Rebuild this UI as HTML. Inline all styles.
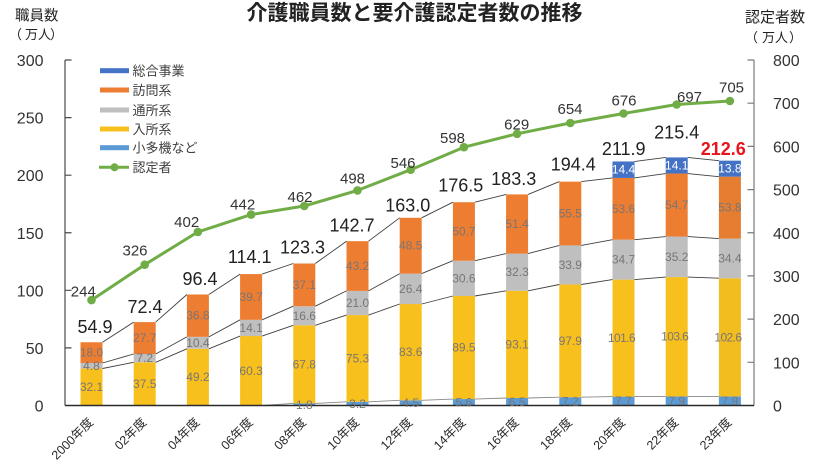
<!DOCTYPE html>
<html><head><meta charset="utf-8"><style>
html,body{margin:0;padding:0;background:#fff;}
svg{display:block;font-family:"Liberation Sans","Noto Sans CJK JP",sans-serif;}
.ax{font-size:16px;fill:#333;}
.vl{font-size:12px;fill:#7a7575;text-anchor:middle;}
.wl{font-size:12px;fill:#fff;text-anchor:middle;}
.tl{font-size:18px;fill:#222;text-anchor:middle;}
.gl{font-size:15px;fill:#333;text-anchor:middle;}
.lg{font-size:13px;fill:#404040;}
.xl{font-size:12.5px;fill:#2a2a2a;text-anchor:end;}
</style></head><body>
<svg width="816" height="467" viewBox="0 0 816 467" xmlns="http://www.w3.org/2000/svg">
<rect width="816" height="467" fill="#fff"/>
<text x="414.5" y="20" font-size="21" font-weight="bold" fill="#222" text-anchor="middle">介護職員数と要介護認定者数の推移</text>
<text x="15" y="20.5" font-size="14.5" fill="#222">職員数</text>
<text x="9" y="39" font-size="13" fill="#222">（</text><text x="25" y="39" font-size="13" fill="#222">万人</text><text x="50" y="39" font-size="13" fill="#222">）</text>
<text x="745" y="22" font-size="15" fill="#222">認定者数</text>
<text x="745" y="42" font-size="13" fill="#222">（</text><text x="762" y="42" font-size="13" fill="#222">万人</text><text x="789" y="42" font-size="13" fill="#222">）</text>

<g class="ax" text-anchor="end">
<text x="43.5" y="66">300</text><text x="43.5" y="123.6">250</text><text x="43.5" y="181.2">200</text><text x="43.5" y="238.8">150</text><text x="43.5" y="296.3">100</text><text x="43.5" y="353.9">50</text><text x="43.5" y="411.5">0</text>
</g>
<g class="ax">
<text x="773" y="66">800</text><text x="773" y="109.2">700</text><text x="773" y="152.4">600</text><text x="773" y="195.6">500</text><text x="773" y="238.8">400</text><text x="773" y="281.9">300</text><text x="773" y="325.1">200</text><text x="773" y="368.3">100</text><text x="773" y="411.5">0</text>
</g>

<g>
<rect x="80.5" y="368.53" width="22" height="36.97" fill="#F8C01C"/>
<rect x="80.5" y="363.0" width="22" height="5.53" fill="#BFBFBF"/>
<rect x="80.5" y="342.27" width="22" height="20.73" fill="#ED7D31"/>
<rect x="133.7" y="362.31" width="22" height="43.19" fill="#F8C01C"/>
<rect x="133.7" y="354.02" width="22" height="8.29" fill="#BFBFBF"/>
<rect x="133.7" y="322.12" width="22" height="31.9" fill="#ED7D31"/>
<rect x="186.9" y="348.84" width="22" height="56.66" fill="#F8C01C"/>
<rect x="186.9" y="336.86" width="22" height="11.98" fill="#BFBFBF"/>
<rect x="186.9" y="294.48" width="22" height="42.38" fill="#ED7D31"/>
<rect x="240.1" y="336.05" width="22" height="69.45" fill="#F8C01C"/>
<rect x="240.1" y="319.82" width="22" height="16.23" fill="#BFBFBF"/>
<rect x="240.1" y="274.09" width="22" height="45.73" fill="#ED7D31"/>
<rect x="293.3" y="403.43" width="22" height="2.07" fill="#5B9BD5"/>
<rect x="293.3" y="325.34" width="22" height="78.09" fill="#F8C01C"/>
<rect x="293.3" y="306.23" width="22" height="19.11" fill="#BFBFBF"/>
<rect x="293.3" y="263.5" width="22" height="42.73" fill="#ED7D31"/>
<rect x="346.5" y="401.81" width="22" height="3.69" fill="#5B9BD5"/>
<rect x="346.5" y="315.09" width="22" height="86.72" fill="#F8C01C"/>
<rect x="346.5" y="290.91" width="22" height="24.18" fill="#BFBFBF"/>
<rect x="346.5" y="241.16" width="22" height="49.75" fill="#ED7D31"/>
<rect x="399.7" y="400.32" width="22" height="5.18" fill="#5B9BD5"/>
<rect x="399.7" y="304.04" width="22" height="96.28" fill="#F8C01C"/>
<rect x="399.7" y="273.63" width="22" height="30.41" fill="#BFBFBF"/>
<rect x="399.7" y="217.78" width="22" height="55.85" fill="#ED7D31"/>
<rect x="452.9" y="399.05" width="22" height="6.45" fill="#5B9BD5"/>
<rect x="452.9" y="295.98" width="22" height="103.07" fill="#F8C01C"/>
<rect x="452.9" y="260.73" width="22" height="35.25" fill="#BFBFBF"/>
<rect x="452.9" y="202.23" width="22" height="58.5" fill="#ED7D31"/>
<rect x="506.1" y="398.01" width="22" height="7.49" fill="#5B9BD5"/>
<rect x="506.1" y="290.79" width="22" height="107.22" fill="#F8C01C"/>
<rect x="506.1" y="253.6" width="22" height="37.19" fill="#BFBFBF"/>
<rect x="506.1" y="194.4" width="22" height="59.2" fill="#ED7D31"/>
<rect x="559.3" y="397.21" width="22" height="8.29" fill="#5B9BD5"/>
<rect x="559.3" y="284.46" width="22" height="112.75" fill="#F8C01C"/>
<rect x="559.3" y="245.42" width="22" height="39.04" fill="#BFBFBF"/>
<rect x="559.3" y="181.62" width="22" height="63.8" fill="#ED7D31"/>
<rect x="612.5" y="396.63" width="22" height="8.87" fill="#5B9BD5"/>
<rect x="612.5" y="279.62" width="22" height="117.01" fill="#F8C01C"/>
<rect x="612.5" y="239.66" width="22" height="39.96" fill="#BFBFBF"/>
<rect x="612.5" y="177.93" width="22" height="61.73" fill="#ED7D31"/>
<rect x="612.5" y="161.46" width="22" height="16.47" fill="#4472C4"/>
<rect x="665.7" y="396.4" width="22" height="9.1" fill="#5B9BD5"/>
<rect x="665.7" y="277.09" width="22" height="119.31" fill="#F8C01C"/>
<rect x="665.7" y="236.55" width="22" height="40.54" fill="#BFBFBF"/>
<rect x="665.7" y="173.55" width="22" height="63.0" fill="#ED7D31"/>
<rect x="665.7" y="157.43" width="22" height="16.12" fill="#4472C4"/>
<rect x="718.9" y="396.4" width="22" height="9.1" fill="#5B9BD5"/>
<rect x="718.9" y="278.24" width="22" height="118.16" fill="#F2BD1E"/>
<rect x="718.9" y="238.62" width="22" height="39.62" fill="#BFBFBF"/>
<rect x="718.9" y="176.66" width="22" height="61.96" fill="#E57E31"/>
<rect x="718.9" y="160.66" width="22" height="16.0" fill="#4472C4"/>
</g>

<g fill="none" stroke="#404040" stroke-width="0.9">
<path d="M262.1 405.5 L293.3 403.4 M315.3 403.4 L346.5 401.8 M368.5 401.8 L399.7 400.3 M421.7 400.3 L452.9 399.1 M474.9 399.1 L506.1 398.0 M528.1 398.0 L559.3 397.2 M581.3 397.2 L612.5 396.6 M634.5 396.6 L665.7 396.4 M687.7 396.4 L718.9 396.4" stroke="#888"/>
<path d="M102.5 368.5 L133.7 362.3 M155.7 362.3 L186.9 348.8 M208.9 348.8 L240.1 336.1 M262.1 336.1 L293.3 325.3 M315.3 325.3 L346.5 315.1 M368.5 315.1 L399.7 304.0 M421.7 304.0 L452.9 296.0 M474.9 296.0 L506.1 290.8 M528.1 290.8 L559.3 284.5 M581.3 284.5 L612.5 279.6 M634.5 279.6 L665.7 277.1 M687.7 277.1 L718.9 278.2"/>
<path d="M102.5 363.0 L133.7 354.0 M155.7 354.0 L186.9 336.9 M208.9 336.9 L240.1 319.8 M262.1 319.8 L293.3 306.2 M315.3 306.2 L346.5 290.9 M368.5 290.9 L399.7 273.6 M421.7 273.6 L452.9 260.7 M474.9 260.7 L506.1 253.6 M528.1 253.6 L559.3 245.4 M581.3 245.4 L612.5 239.7 M634.5 239.7 L665.7 236.6 M687.7 236.6 L718.9 238.6"/>
<path d="M102.5 342.3 L133.7 322.1 M155.7 322.1 L186.9 294.5 M208.9 294.5 L240.1 274.1 M262.1 274.1 L293.3 263.5 M315.3 263.5 L346.5 241.2 M368.5 241.2 L399.7 217.8 M421.7 217.8 L452.9 202.2 M474.9 202.2 L506.1 194.4 M528.1 194.4 L559.3 181.6 M581.3 181.6 L612.5 177.9 M634.5 177.9 L665.7 173.6 M687.7 173.6 L718.9 176.7"/>
<path d="M634.5 161.5 L665.7 157.4 M687.7 157.4 L718.9 160.7"/>
</g>

<g stroke="#4a4a4a" stroke-width="1.2" fill="none">
<path d="M65 60 V405.5"/>
<path d="M65 60 H71.5 M65 117.6 H71.5 M65 175.2 H71.5 M65 232.75 H71.5 M65 290.3 H71.5 M65 347.9 H71.5"/>
</g>
<g stroke="#7a7a7a" stroke-width="1.2" fill="none">
<path d="M754 60 V405.5"/>
<path d="M754 60 H747.5 M754 103.2 H747.5 M754 146.4 H747.5 M754 189.6 H747.5 M754 232.75 H747.5 M754 275.9 H747.5 M754 319.1 H747.5 M754 362.3 H747.5"/>
</g>
<path d="M65 405.5 H754" stroke="#2a2a2a" stroke-width="1.5"/>

<g class="vl">
<text x="91.5" y="391">32.1</text><text x="91.5" y="369.8">4.8</text><text x="91.5" y="356.6">18.0</text>
<text x="144.7" y="387.9">37.5</text><text x="144.7" y="362.2">7.2</text><text x="144.7" y="342.1">27.7</text>
<text x="197.9" y="381.2">49.2</text><text x="197.9" y="346.9">10.4</text><text x="197.9" y="319.7">36.8</text>
<text x="251.1" y="374.8">60.3</text><text x="251.1" y="331.9">14.1</text><text x="251.1" y="301">39.7</text>
<text x="304.3" y="409">1.8</text><text x="304.3" y="368.4">67.8</text><text x="304.3" y="319.8">16.6</text><text x="304.3" y="288.9">37.1</text>
<text x="357.5" y="408">3.2</text><text x="357.5" y="362.5">75.3</text><text x="357.5" y="307">21.0</text><text x="357.5" y="270">43.2</text>
<text x="410.7" y="407">4.5</text><text x="410.7" y="356.2">83.6</text><text x="410.7" y="292.8">26.4</text><text x="410.7" y="249.7">48.5</text>
<text x="463.9" y="406.5">5.6</text><text x="463.9" y="351.5">89.5</text><text x="463.9" y="282.4">30.6</text><text x="463.9" y="235.5">50.7</text>
<text x="517.1" y="406">6.5</text><text x="517.1" y="348.4">93.1</text><text x="517.1" y="276.2">32.3</text><text x="517.1" y="228">51.4</text>
<text x="570.3" y="405.5">7.2</text><text x="570.3" y="344.8">97.9</text><text x="570.3" y="268.9">33.9</text><text x="570.3" y="217.5">55.5</text>
<text x="623.5" y="405">7.7</text><text x="621.5" y="342.1" letter-spacing="-0.6">101.6</text><text x="623.5" y="263.6">34.7</text><text x="623.5" y="212.8">53.6</text>
<text x="676.7" y="405">7.9</text><text x="674.7" y="340.7" letter-spacing="-0.6">103.6</text><text x="676.7" y="260.8">35.2</text><text x="676.7" y="209">54.7</text>
<text x="729.9" y="405">7.9</text><text x="727.9" y="341.3" letter-spacing="-0.6">102.6</text><text x="729.9" y="262.4">34.4</text><text x="729.9" y="211.6">53.8</text>
</g>
<g class="wl">
<text x="623.5" y="173.7">14.4</text><text x="676.7" y="169.5">14.1</text><text x="729.9" y="172.7">13.8</text>
</g>

<g class="tl">
<text x="95" y="333">54.9</text>
<text x="145" y="313">72.4</text>
<text x="200" y="285">96.4</text>
<text x="249.7" y="263">114.1</text>
<text x="302.5" y="253.5">123.3</text>
<text x="352" y="231.7">142.7</text>
<text x="407.8" y="211.5">163.0</text>
<text x="460.8" y="191.7">176.5</text>
<text x="513.7" y="185">183.3</text>
<text x="573.3" y="170.5">194.4</text>
<text x="623.7" y="155">211.9</text>
<text x="676.7" y="138.5">215.4</text>
<text x="723.3" y="155" fill="#E8141C" font-weight="bold">212.6</text>
</g>

<polyline fill="none" stroke="#70AD47" stroke-width="3" stroke-linejoin="round" points="91.5,300.1 144.7,264.7 197.9,231.9 251.1,214.6 304.3,206 357.5,190.4 410.7,169.7 463.9,147.2 517.1,133.8 570.3,123 623.5,113.5 676.7,104.5 729.9,101"/>
<g fill="#70AD47">
<circle cx="91.5" cy="300.1" r="4.3"/><circle cx="144.7" cy="264.7" r="4.3"/><circle cx="197.9" cy="231.9" r="4.3"/><circle cx="251.1" cy="214.6" r="4.3"/><circle cx="304.3" cy="206" r="4.3"/><circle cx="357.5" cy="190.4" r="4.3"/><circle cx="410.7" cy="169.7" r="4.3"/><circle cx="463.9" cy="147.2" r="4.3"/><circle cx="517.1" cy="133.8" r="4.3"/><circle cx="570.3" cy="123" r="4.3"/><circle cx="623.5" cy="113.5" r="4.3"/><circle cx="676.7" cy="104.5" r="4.3"/><circle cx="729.9" cy="101" r="4.3"/>
</g>
<g class="gl">
<text x="83.3" y="296.5">244</text>
<text x="135" y="255.5">326</text>
<text x="186.7" y="227">402</text>
<text x="242.7" y="209.5">442</text>
<text x="300" y="202">462</text>
<text x="352.5" y="183.5">498</text>
<text x="403" y="168">546</text>
<text x="452.5" y="143">598</text>
<text x="516.7" y="129.5">629</text>
<text x="570" y="114">654</text>
<text x="624" y="105.5">676</text>
<text x="689.5" y="102">697</text>
<text x="731.5" y="92.5">705</text>
</g>

<rect x="100" y="68.2" width="29" height="5" fill="#4472C4"/>
<rect x="100" y="87.5" width="29" height="5" fill="#ED7D31"/>
<rect x="100" y="107.5" width="29" height="5" fill="#BFBFBF"/>
<rect x="100" y="126.5" width="29" height="5" fill="#F8C01C"/>
<rect x="100" y="145.2" width="29" height="5" fill="#5B9BD5"/>
<path d="M99 167.3 H129" stroke="#70AD47" stroke-width="3"/>
<circle cx="114.5" cy="167.3" r="4" fill="#70AD47"/>
<g class="lg">
<text x="132.5" y="75.5">総合事業</text>
<text x="132.5" y="94.8">訪問系</text>
<text x="132.5" y="114.8">通所系</text>
<text x="132.5" y="133.8">入所系</text>
<text x="132.5" y="152.5">小多機など</text>
<text x="132.5" y="172">認定者</text>
</g>

<g class="xl">
<text transform="translate(94,423) rotate(-45)">2000年度</text>
<text transform="translate(147.2,423) rotate(-45)">02年度</text>
<text transform="translate(200.4,423) rotate(-45)">04年度</text>
<text transform="translate(253.6,423) rotate(-45)">06年度</text>
<text transform="translate(306.8,423) rotate(-45)">08年度</text>
<text transform="translate(360,423) rotate(-45)">10年度</text>
<text transform="translate(413.2,423) rotate(-45)">12年度</text>
<text transform="translate(466.4,423) rotate(-45)">14年度</text>
<text transform="translate(519.6,423) rotate(-45)">16年度</text>
<text transform="translate(572.8,423) rotate(-45)">18年度</text>
<text transform="translate(626,423) rotate(-45)">20年度</text>
<text transform="translate(679.2,423) rotate(-45)">22年度</text>
<text transform="translate(732.4,423) rotate(-45)">23年度</text>
</g>
</svg>
</body></html>
